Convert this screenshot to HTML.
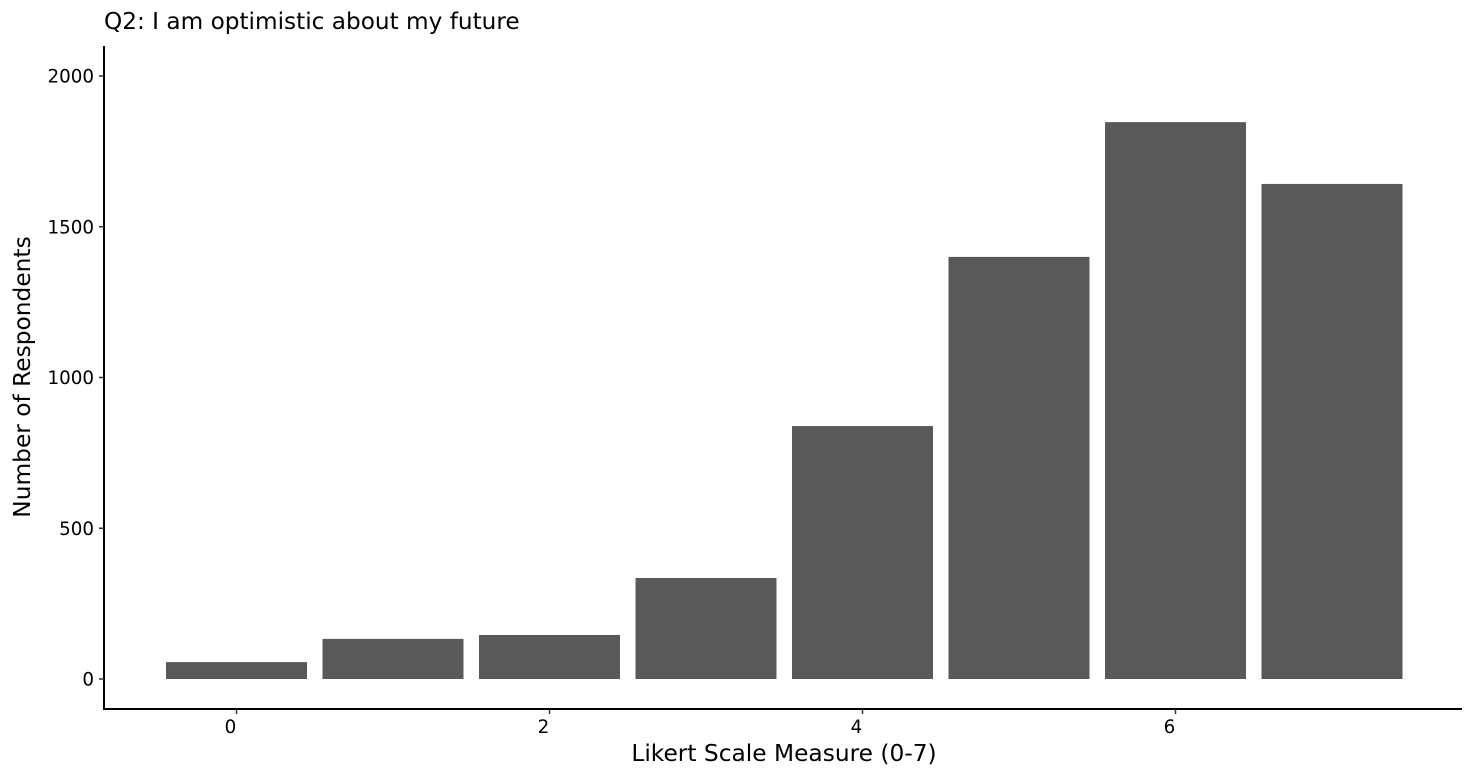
<!DOCTYPE html>
<html><head><meta charset="utf-8"><style>
body{margin:0;background:#fff;}
svg{display:block;font-family:"DejaVu Sans","Liberation Sans",sans-serif;}
</style></head><body>
<svg id="chart" width="1476" height="781">
<text x="104" y="29" font-size="23.2" fill="#000">Q2: I am optimistic about my future</text>
<text x="784" y="761" font-size="23.3" text-anchor="middle" fill="#000">Likert Scale Measure (0-7)</text>
<text transform="translate(30,377) rotate(-90)" font-size="23.3" text-anchor="middle" fill="#000">Number of Respondents</text>
<g id="bars"></g>
<line x1="104" y1="46" x2="104" y2="709" stroke="#000" stroke-width="2"/>
<line x1="103" y1="709" x2="1462" y2="709" stroke="#000" stroke-width="2"/>
<g id="axes"></g>
</svg>
<script>
const categories=[0,1,2,3,4,5,6,7];
const counts=[56,133,146,335,839,1400,1847,1642];
const yTicks=[0,500,1000,1500,2000];
const xTicks=[0,2,4,6];
const NS="http://www.w3.org/2000/svg";
function xs(v){return 236.5+v*156.5;}
function ys(v){return 679-v*0.3015;}
const bars=document.getElementById('bars'),axes=document.getElementById('axes');
const bw=141;
categories.forEach((c,i)=>{
  const r=document.createElementNS(NS,'rect');
  r.setAttribute('x',xs(c)-bw/2);r.setAttribute('width',bw);
  r.setAttribute('y',ys(counts[i]));r.setAttribute('height',ys(0)-ys(counts[i]));
  r.setAttribute('fill','#595959');
  
  
  bars.appendChild(r);
});
yTicks.forEach(t=>{
  const l=document.createElementNS(NS,'line');
  l.setAttribute('x1',99);l.setAttribute('x2',104);l.setAttribute('y1',ys(t));l.setAttribute('y2',ys(t));
  l.setAttribute('stroke','#333');l.setAttribute('stroke-width',1.5);
  
  
  axes.appendChild(l);
  const tx=document.createElementNS(NS,'text');
  tx.setAttribute('x',94);tx.setAttribute('y',ys(t)+6.5);tx.setAttribute('text-anchor','end');
  tx.setAttribute('font-size',18.3);tx.textContent=t;
  
  
  axes.appendChild(tx);
});
xTicks.forEach(t=>{
  const l=document.createElementNS(NS,'line');
  l.setAttribute('x1',xs(t));l.setAttribute('x2',xs(t));l.setAttribute('y1',709);l.setAttribute('y2',714);
  l.setAttribute('stroke','#333');l.setAttribute('stroke-width',1.5);
  
  
  axes.appendChild(l);
  const tx=document.createElementNS(NS,'text');
  tx.setAttribute('x',xs(t)-6);tx.setAttribute('y',733);tx.setAttribute('text-anchor','middle');
  tx.setAttribute('font-size',18.3);tx.textContent=t;
  
  
  axes.appendChild(tx);
});
</script>
</body></html>
